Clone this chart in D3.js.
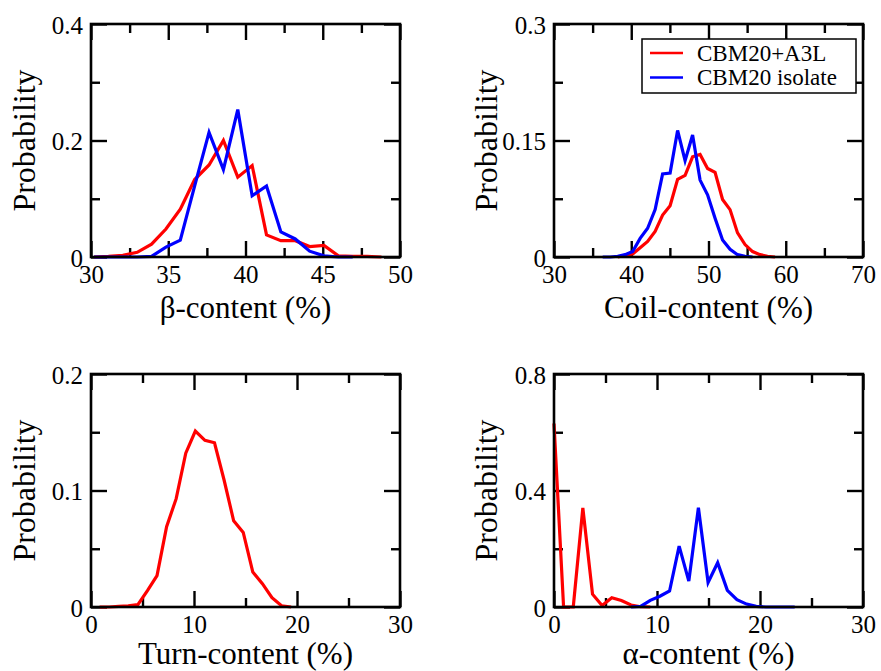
<!DOCTYPE html>
<html>
<head>
<meta charset="utf-8">
<script src="https://cdn.jsdelivr.net/npm/d3@7"></script>
<style>
  html, body { margin: 0; padding: 0; background: #fff; }
  svg { display: block; }
  text { font-family: "Liberation Serif", "Times New Roman", serif; fill: #000; }
</style>
</head>
<body>
<svg id="chart" width="881" height="671"></svg>
<script>
// ---------------- DATA ----------------
const seriesNames = ["CBM20+A3L", "CBM20 isolate"];

// β-content panel
const betaX    = [30.2, 31.13, 32.06, 32.99, 33.92, 34.85, 35.78, 36.71, 37.64, 38.57, 39.50, 40.43, 41.36, 42.29, 43.22, 44.15, 45.08, 46.01, 46.94, 47.87, 48.80];
const betaRed  = [0, 0.001, 0.003, 0.008, 0.022, 0.048, 0.082, 0.133, 0.158, 0.200, 0.137, 0.157, 0.038, 0.028, 0.028, 0.018, 0.020, 0.002, 0.001, 0.001, 0];
const betaBlue = [0, 0, 0, 0, 0.001, 0.017, 0.029, 0.122, 0.214, 0.150, 0.253, 0.105, 0.122, 0.043, 0.031, 0.010, 0.002, 0, 0, null, null];

// Coil-content panel
const coilX    = [36.3, 37.27, 38.24, 39.21, 40.18, 41.15, 42.12, 43.09, 44.06, 45.03, 46.0, 46.97, 47.94, 48.91, 49.88, 50.85, 51.82, 52.79, 53.76, 54.73, 55.7, 56.67, 57.64, 58.61];
const coilRed  = [null, null, 0, 0.002, 0.004, 0.012, 0.020, 0.033, 0.054, 0.066, 0.100, 0.105, 0.129, 0.132, 0.114, 0.109, 0.074, 0.061, 0.031, 0.016, 0.007, 0.003, 0.001, 0];
const coilBlue = [0, 0, 0.001, 0.003, 0.007, 0.024, 0.037, 0.061, 0.107, 0.108, 0.163, 0.124, 0.157, 0.099, 0.080, 0.050, 0.022, 0.010, 0.003, 0.001, 0, null, null, null];

// Turn-content panel
const turnX    = [0.83, 1.76, 2.69, 3.62, 4.55, 5.48, 6.41, 7.34, 8.27, 9.20, 10.13, 11.06, 11.99, 12.92, 13.85, 14.78, 15.71, 16.64, 17.57, 18.50, 19.43];
const turnRed  = [0, 0, 0.0005, 0.001, 0.002, 0.014, 0.027, 0.069, 0.093, 0.132, 0.151, 0.143, 0.141, 0.109, 0.074, 0.064, 0.030, 0.020, 0.008, 0.001, 0];

// α-content panel
const alphaRedX  = [0, 0.93, 1.87, 2.80, 3.74, 4.67, 5.61, 6.54, 7.48, 8.41, 9.35];
const alphaRed   = [0.63, 0, 0, 0.34, 0.044, 0.005, 0.032, 0.022, 0.007, 0.001, 0];
const alphaBlueX = [7.48, 8.41, 9.35, 10.28, 11.22, 12.15, 13.09, 14.02, 14.96, 15.89, 16.83, 17.76, 18.70, 19.63, 20.57, 21.50, 22.44, 23.37];
const alphaBlue  = [0, 0.002, 0.023, 0.037, 0.055, 0.209, 0.089, 0.341, 0.084, 0.152, 0.057, 0.025, 0.010, 0.002, 0, 0, 0, 0];

// Tick values / labels
const betaXTicks  = [30, 35, 40, 45, 50];
const betaXMinor  = [32.5, 37.5, 42.5, 47.5];
const betaYTicks  = [0, 0.2, 0.4];
const betaYLabels = ["0", "0.2", "0.4"];
const betaYMinor  = [0.1, 0.3];

const coilXTicks  = [30, 40, 50, 60, 70];
const coilXMinor  = [35, 45, 55, 65];
const coilYTicks  = [0, 0.15, 0.3];
const coilYLabels = ["0", "0.15", "0.3"];
const coilYMinor  = [0.075, 0.225];

const turnXTicks  = [0, 10, 20, 30];
const turnXMinor  = [5, 15, 25];
const turnYTicks  = [0, 0.1, 0.2];
const turnYLabels = ["0", "0.1", "0.2"];
const turnYMinor  = [0.05, 0.15];

const alphaXTicks  = [0, 10, 20, 30];
const alphaXMinor  = [5, 15, 25];
const alphaYTicks  = [0, 0.4, 0.8];
const alphaYLabels = ["0", "0.4", "0.8"];
const alphaYMinor  = [0.2, 0.6];

// ---------------- DRAW ----------------
const FONT = '"Liberation Serif", "Times New Roman", serif';
const svg = d3.select("#chart");
svg.append("rect").attr("width", 881).attr("height", 671).attr("fill", "#fff");

const RED = "#ff0000", BLUE = "#0000ff";
const MAJ = 16, MIN = 9;

function toPts(xs, ys) {
  const out = [];
  xs.forEach((x, i) => { if (ys[i] !== null && ys[i] !== undefined) out.push([x, ys[i]]); });
  return out;
}

function panel(cfg) {
  const g = svg.append("g").attr("transform", `translate(${cfg.left},${cfg.top})`);
  const w = cfg.width, h = cfg.height;
  const x = d3.scaleLinear().domain(cfg.xDomain).range([0, w]);
  const y = d3.scaleLinear().domain(cfg.yDomain).range([h, 0]);

  const styleAxis = sel => {
    sel.attr("font-family", null).attr("font-size", null);
    sel.select(".domain").remove();
    sel.selectAll(".tick line").attr("stroke", "#000").attr("stroke-width", 2.4);
    sel.selectAll("text").style("font-family", FONT).style("font-size", "25px").attr("fill", "#000");
  };

  // bottom major with labels
  g.append("g").attr("transform", `translate(0,${h})`)
    .call(d3.axisBottom(x).tickValues(cfg.xTicks).tickSize(-MAJ).tickPadding(8).tickFormat(d3.format("d")))
    .call(styleAxis);
  g.append("g").attr("transform", `translate(0,${h})`)
    .call(d3.axisBottom(x).tickValues(cfg.xMinor).tickSize(-MIN).tickFormat(""))
    .call(styleAxis);
  // top mirrored
  g.append("g")
    .call(d3.axisTop(x).tickValues(cfg.xTicks).tickSize(-MAJ).tickFormat(""))
    .call(styleAxis);
  g.append("g")
    .call(d3.axisTop(x).tickValues(cfg.xMinor).tickSize(-MIN).tickFormat(""))
    .call(styleAxis);
  // left major with labels
  g.append("g")
    .call(d3.axisLeft(y).tickValues(cfg.yTicks).tickSize(-MAJ).tickPadding(8)
      .tickFormat((d, i) => cfg.yLabels[i]))
    .call(styleAxis)
    .call(s => s.selectAll("text").attr("dy", "0.36em"));
  g.append("g")
    .call(d3.axisLeft(y).tickValues(cfg.yMinor).tickSize(-MIN).tickFormat(""))
    .call(styleAxis);
  // right mirrored
  g.append("g").attr("transform", `translate(${w},0)`)
    .call(d3.axisRight(y).tickValues(cfg.yTicks).tickSize(-MAJ).tickFormat(""))
    .call(styleAxis);
  g.append("g").attr("transform", `translate(${w},0)`)
    .call(d3.axisRight(y).tickValues(cfg.yMinor).tickSize(-MIN).tickFormat(""))
    .call(styleAxis);

  // data lines
  const line = d3.line().x(d => x(d[0])).y(d => y(d[1]));
  cfg.series.forEach(s => {
    g.append("path")
      .datum(toPts(s.x, s.y))
      .attr("fill", "none")
      .attr("stroke", s.color)
      .attr("stroke-width", 3.2)
      .attr("stroke-linejoin", "miter")
      .attr("d", line);
  });

  // frame
  g.append("rect").attr("width", w).attr("height", h)
    .attr("fill", "none").attr("stroke", "#000").attr("stroke-width", 2.6);

  // titles
  g.append("text")
    .attr("x", w / 2).attr("y", cfg.xTitleY - cfg.top)
    .attr("text-anchor", "middle").style("font-family", FONT).style("font-size", "31px")
    .text(cfg.xTitle);
  g.append("text")
    .attr("transform", `translate(${cfg.yTitleX - cfg.left},${h / 2}) rotate(-90)`)
    .attr("text-anchor", "middle").style("font-family", FONT).style("font-size", "32px")
    .text("Probability");

  return { g, x, y };
}

panel({
  left: 91, top: 24, width: 309, height: 233,
  xDomain: [30, 50], yDomain: [0, 0.4],
  xTicks: betaXTicks, xMinor: betaXMinor, yTicks: betaYTicks, yLabels: betaYLabels, yMinor: betaYMinor,
  xTitle: "β-content (%)", xTitleY: 318, yTitleX: 35,
  series: [{ x: betaX, y: betaRed, color: RED }, { x: betaX, y: betaBlue, color: BLUE }]
});

panel({
  left: 554, top: 24, width: 309, height: 233,
  xDomain: [30, 70], yDomain: [0, 0.3],
  xTicks: coilXTicks, xMinor: coilXMinor, yTicks: coilYTicks, yLabels: coilYLabels, yMinor: coilYMinor,
  xTitle: "Coil-content (%)", xTitleY: 318, yTitleX: 497,
  series: [{ x: coilX, y: coilRed, color: RED }, { x: coilX, y: coilBlue, color: BLUE }]
});

panel({
  left: 91, top: 374, width: 309, height: 233,
  xDomain: [0, 30], yDomain: [0, 0.2],
  xTicks: turnXTicks, xMinor: turnXMinor, yTicks: turnYTicks, yLabels: turnYLabels, yMinor: turnYMinor,
  xTitle: "Turn-content (%)", xTitleY: 664, yTitleX: 35,
  series: [{ x: turnX, y: turnRed, color: RED }]
});

panel({
  left: 554, top: 374, width: 309, height: 233,
  xDomain: [0, 30], yDomain: [0, 0.8],
  xTicks: alphaXTicks, xMinor: alphaXMinor, yTicks: alphaYTicks, yLabels: alphaYLabels, yMinor: alphaYMinor,
  xTitle: "α-content (%)", xTitleY: 664, yTitleX: 497,
  series: [{ x: alphaRedX, y: alphaRed, color: RED }, { x: alphaBlueX, y: alphaBlue, color: BLUE }]
});

// legend (in top-right panel)
const lg = svg.append("g").attr("transform", "translate(642,39)");
lg.append("rect").attr("width", 214).attr("height", 54)
  .attr("fill", "#fff").attr("stroke", "#000").attr("stroke-width", 1.5);
[RED, BLUE].forEach((c, i) => {
  const yy = 14 + i * 24.5;
  lg.append("line").attr("x1", 8).attr("x2", 41).attr("y1", yy).attr("y2", yy)
    .attr("stroke", c).attr("stroke-width", 2.5);
  lg.append("text").attr("x", 55).attr("y", yy + 7.5)
    .style("font-family", FONT).style("font-size", "23px").text(seriesNames[i]);
});
</script>
</body>
</html>
